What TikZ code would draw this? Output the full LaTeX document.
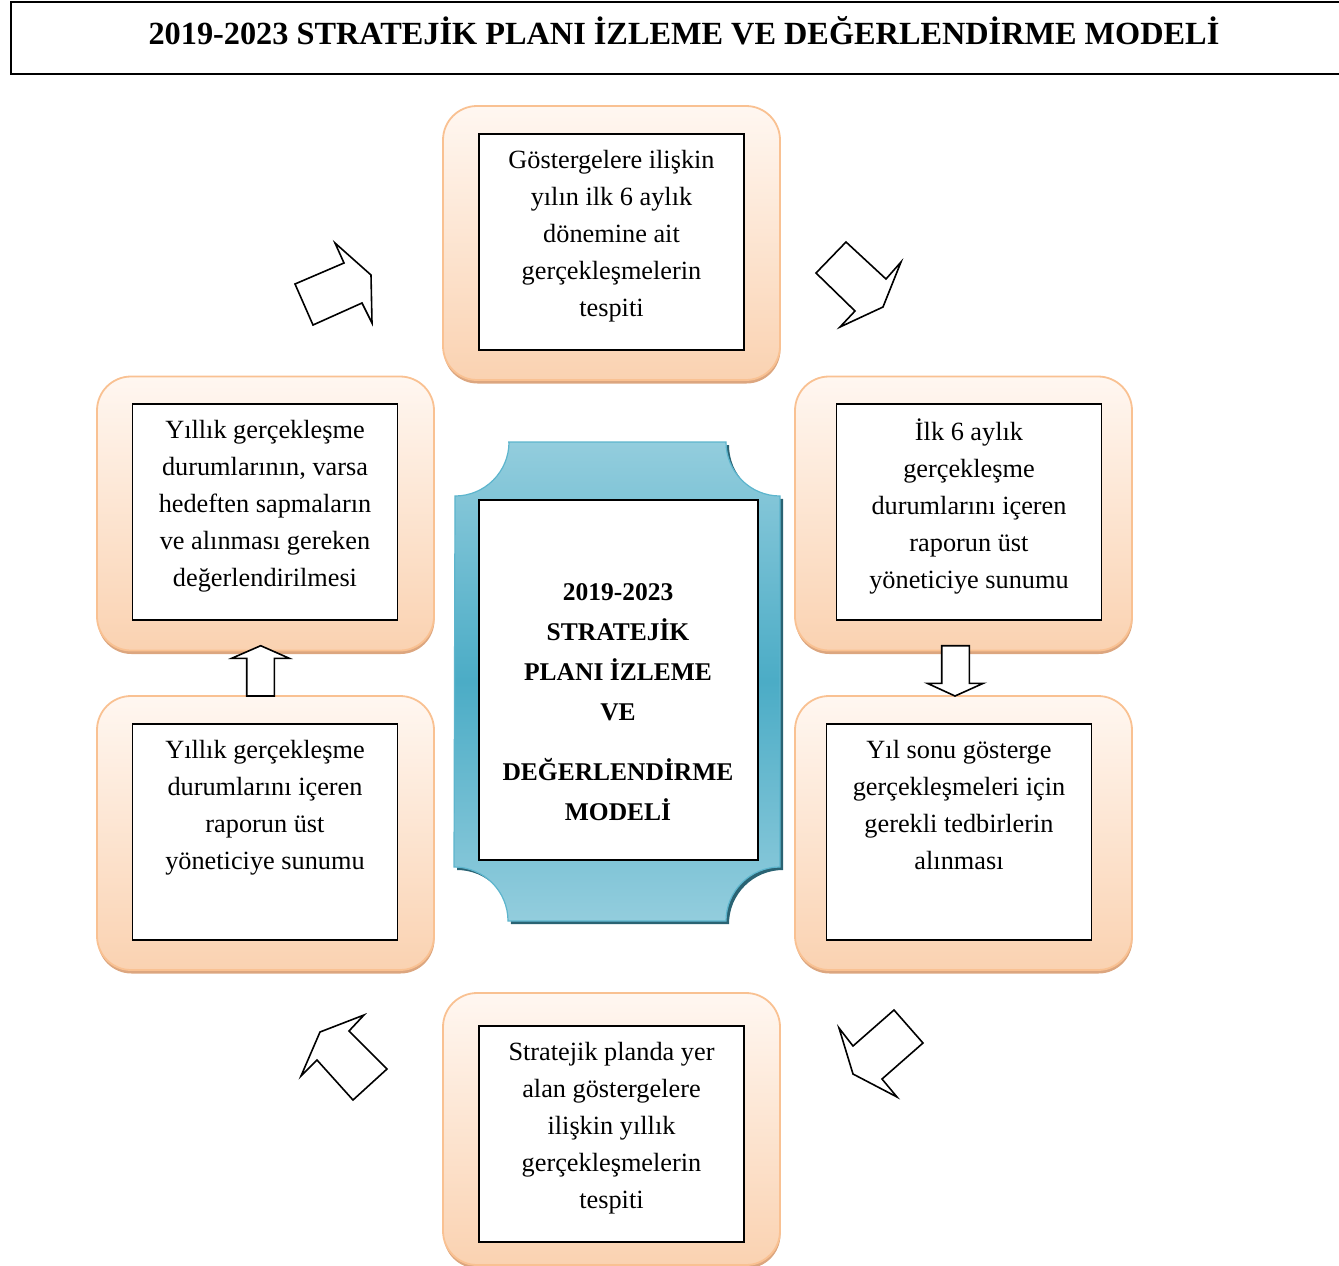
\documentclass[tikz,border=0pt]{standalone}
\usepackage{fontspec}
\setmainfont{Liberation Serif}
\usetikzlibrary{positioning, shadows}
\definecolor{framelight}{HTML}{FFF7F1}
\definecolor{framedark}{HTML}{FAD2B1}
\definecolor{frameedge}{HTML}{F9C192}
\definecolor{frameshadow}{HTML}{DCA67F}
\definecolor{plaquelight}{HTML}{93CDDD}
\definecolor{plaquedark}{HTML}{4BACC6}
\definecolor{plaqueedge}{HTML}{5DB5CD}
\definecolor{plaqueshadow}{HTML}{2A6373}

\begin{document}
\begin{tikzpicture}[
        x=1pt, y=-1pt,
        titlebox/.style={draw, line width=1.6pt, minimum width=1330pt, minimum height=72pt, inner sep=0pt},
        titletext/.style={font=\fontsize{32.3}{38}\selectfont\bfseries, inner sep=0pt},
        frame/.style={
            draw=frameedge,
            line width=1.8pt,
            rounded corners=34pt,
            top color=framelight,
            bottom color=framedark,
            minimum width=337pt,
            minimum height=274pt,
            inner sep=0pt,
            drop shadow={shadow xshift=0.5pt, shadow yshift=-3.5pt, fill=frameshadow, opacity=1}
        },
        stepbox/.style={draw, line width=1.5pt, fill=white, minimum width=265pt, minimum height=216pt, inner sep=0pt},
        boxtext/.style={font=\fontsize{26.3}{37}\selectfont, align=center, inner sep=0pt},
        centertext/.style={font=\fontsize{25.5}{40}\selectfont\bfseries, align=center, inner sep=0pt},
        blockarrow/.style={draw, line width=1.6pt, fill=white, line join=miter}
    ]
        \useasboundingbox (0,0) rectangle (1339,1266);

        % title
        \node[titlebox] (titlebox) at (676,38) {};
        \node[titletext] (title) at (684,31) {2019-2023 STRATEJİK PLANI İZLEME VE DEĞERLENDİRME MODELİ};

        % outer frames
        \node[frame] (topframe) at (611.5,243) {};
        \node[frame] (leftframe) at (265.5,513.5) {};
        \node[frame] (rightframe) at (963.5,513.5) {};
        \node[frame] (lowleftframe) at (265.5,833) {};
        \node[frame] (lowrightframe) at (963.5,833) {};
        \node[frame, minimum height=272pt] (bottomframe) at (611.5,1129) {};

        % inner boxes
        \node[stepbox] (topbox) at (611.5,242) {};
        \node[stepbox] (leftbox) at (265,512) {};
        \node[stepbox] (rightbox) at (969,512) {};
        \node[stepbox] (lowleftbox) at (265,832) {};
        \node[stepbox] (lowrightbox) at (959,832) {};
        \node[stepbox] (bottombox) at (611.5,1134) {};

        \node[boxtext, below=17pt of topbox.north] (toptext)
            {Göstergelere ilişkin\\yılın ilk 6 aylık\\dönemine ait\\gerçekleşmelerin\\tespiti};
        \node[boxtext, below=17pt of leftbox.north] (lefttext)
            {Yıllık gerçekleşme\\durumlarının, varsa\\hedeften sapmaların\\ve alınması gereken\\değerlendirilmesi};
        \node[boxtext, below=15pt of rightbox.north] (righttext)
            {İlk 6 aylık\\gerçekleşme\\durumlarını içeren\\raporun üst\\yöneticiye sunumu};
        \node[boxtext, below=17pt of lowleftbox.north] (lowlefttext)
            {Yıllık gerçekleşme\\durumlarını içeren\\raporun üst\\yöneticiye sunumu};
        \node[boxtext, below=17pt of lowrightbox.north] (lowrighttext)
            {Yıl sonu gösterge\\gerçekleşmeleri için\\gerekli tedbirlerin\\alınması};
        \node[boxtext, below=17pt of bottombox.north] (bottomtext)
            {Stratejik planda yer\\alan göstergelere\\ilişkin yıllık\\gerçekleşmelerin\\tespiti};

        % centre plaque
        \fill[plaqueshadow, xshift=3pt, yshift=-3pt]
            (508,442) -- (726,442) arc[start angle=180, end angle=90, radius=54]
            -- (780,867) arc[start angle=270, end angle=180, radius=54]
            -- (508,921) arc[start angle=0, end angle=-90, radius=54]
            -- (455,496) arc[start angle=90, end angle=0, radius=54] -- cycle;
        \path[draw=plaqueedge, line width=1.2pt, top color=plaquelight, bottom color=plaquelight, middle color=plaquedark]
            (508,442) -- (726,442) arc[start angle=180, end angle=90, radius=54]
            -- (780,867) arc[start angle=270, end angle=180, radius=54]
            -- (508,921) arc[start angle=0, end angle=-90, radius=54]
            -- (455,496) arc[start angle=90, end angle=0, radius=54] -- cycle;
        \node[stepbox, minimum width=279pt, minimum height=360pt] (centrebox) at (618.5,680) {};
        \node[centertext] (centretitle) at (618,702)
            {2019-2023\\STRATEJİK\\PLANI İZLEME\\VE\\[20pt]DEĞERLENDİRME\\MODELİ};

        % block arrows
        \draw[blockarrow] (335,243) -- (344,263) -- (295,284) -- (313,325) -- (362,303) -- (372,323) -- (371,275) -- cycle;
        \draw[blockarrow] (846,242) -- (816,273) -- (855,311) -- (840,327) -- (883,307) -- (901,262) -- (886,279) -- cycle;
        \draw[blockarrow] (941.7,645.7) -- (969.3,645.7) -- (969.3,683.3) -- (983.3,683.3) -- (955,696) -- (927.3,683.3) -- (941.7,683.3) -- cycle;
        \draw[blockarrow] (894,1010) -- (923,1043) -- (882,1079) -- (897,1097) -- (853,1074) -- (839,1028) -- (853,1046) -- cycle;
        \draw[blockarrow] (364,1015) -- (320,1032) -- (301,1076) -- (317,1060) -- (353,1100) -- (387,1069) -- (349,1031) -- cycle;
        \draw[blockarrow] (260.7,645.7) -- (231.7,658.3) -- (246.7,658.3) -- (246.7,696) -- (274.3,696) -- (274.3,658.3) -- (289.3,658.3) -- cycle;
    \end{tikzpicture}
\end{document}
